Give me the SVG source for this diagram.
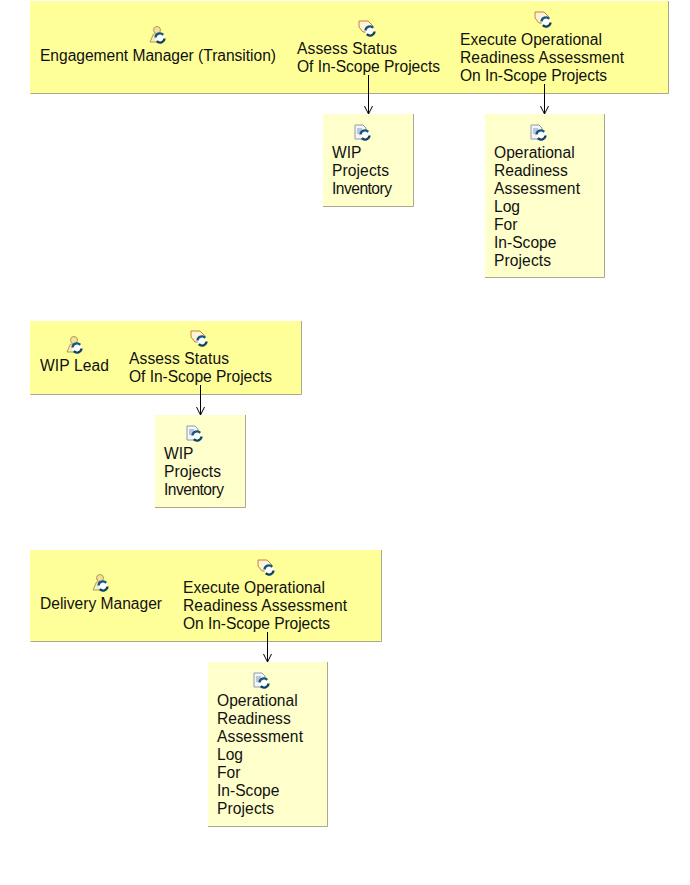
<svg xmlns="http://www.w3.org/2000/svg" width="690" height="885" viewBox="0 0 690 885">
<style>
text{font-family:"Liberation Sans",Arial,sans-serif;font-size:15.6px;fill:#111}
.lane{fill:#ffff99}
.doc{fill:#ffffcc}
.edgeR{fill:none;stroke:#a8a88c;stroke-width:1}
.conn{fill:none;stroke:#000;stroke-width:1;marker-end:url(#arrow)}
</style>
<defs>
<marker id="arrow" markerUnits="userSpaceOnUse" markerWidth="10" markerHeight="10" refX="9" refY="5" orient="auto" viewBox="0 0 10 10"><path d="M1 1L9 5L1 9" fill="none" stroke="#000" stroke-width="1"/></marker>
<g id="sync"><circle cx="0" cy="0" r="4.500" fill="#fff"/><path d="M-4.500 -.5A4.500 4.500 0 0 1 3.200 -3.200" fill="none" stroke="#14567e" stroke-width="2.400"/><path d="M4.500 .5A4.500 4.500 0 0 1 -3.200 3.200" fill="none" stroke="#0f4461" stroke-width="2.400"/></g>
<g id="person"><circle cx="0" cy="-5" r="3.500" fill="#f3e0a0" stroke="#b39a55"/><path d="M-7 7L-3.500 -1H3L6 7Z" fill="#f8edc2" stroke="#b39a55"/><use href="#sync" x="3" y="3"/></g>
<g id="task"><path d="M-8 -7H1L6 -2L3 4H-4L-8 -1Z" fill="#fff3d8" stroke="#c8803a"/><use href="#sync" x="3" y="3"/></g>
<g id="file"><path d="M-7 -7H1L4 -4V7H-7Z" fill="#f6f6f6" stroke="#8a9ab0"/><path d="M-5 -3H0M-5 -1H1M-5 1H0" stroke="#7a94c0"/><use href="#sync" x="3" y="3"/></g>
</defs>

<g id="lane-engagement-manager">
<rect class="lane" x="30" y="1" width="638" height="93"/>
<path class="edgeR" d="M30.500 93.500H668.500V1"/>
<use href="#person" x="157" y="35"/>
<text x="40" y="61" textLength="236">Engagement Manager (Transition)</text>
</g>
<g id="task-assess-1">
<use href="#task" x="367" y="28"/>
<text x="297" y="54" textLength="100">Assess Status</text>
<text x="297" y="72" textLength="143">Of In-Scope Projects</text>
</g>
<g id="task-execute-1">
<use href="#task" x="543" y="19"/>
<text x="460" y="45" textLength="142">Execute Operational</text>
<text x="460" y="63" textLength="164">Readiness Assessment</text>
<text x="460" y="81" textLength="147">On In-Scope Projects</text>
</g>
<g id="doc-wip-1">
<rect class="doc" x="323" y="114" width="90" height="92"/>
<path class="edgeR" d="M323 206.500H413.500V114"/>
<use href="#file" x="362" y="132"/>
<text x="332" y="158">WIP</text>
<text x="332" y="176" textLength="57">Projects</text>
<text x="332" y="194" textLength="60">Inventory</text>
</g>
<g id="doc-ora-1">
<rect class="doc" x="485" y="114" width="119" height="163"/>
<path class="edgeR" d="M485 277.500H604.500V114"/>
<use href="#file" x="538" y="132"/>
<text x="494" y="158">Operational</text>
<text x="494" y="176">Readiness</text>
<text x="494" y="194" textLength="86">Assessment</text>
<text x="494" y="212">Log</text>
<text x="494" y="230">For</text>
<text x="494" y="248">In-Scope</text>
<text x="494" y="266" textLength="57">Projects</text>
</g>

<g id="lane-wip-lead">
<rect class="lane" x="30" y="321" width="271" height="73"/>
<path class="edgeR" d="M30.500 394.500H301.500V321"/>
<use href="#person" x="74" y="345"/>
<text x="40" y="371" textLength="69">WIP Lead</text>
</g>
<g id="task-assess-2">
<use href="#task" x="199" y="338"/>
<text x="129" y="364" textLength="100">Assess Status</text>
<text x="129" y="382" textLength="143">Of In-Scope Projects</text>
</g>
<g id="doc-wip-2">
<rect class="doc" x="155" y="415" width="90" height="92"/>
<path class="edgeR" d="M155 507.500H245.500V415"/>
<use href="#file" x="194" y="433"/>
<text x="164" y="459">WIP</text>
<text x="164" y="477" textLength="57">Projects</text>
<text x="164" y="495" textLength="60">Inventory</text>
</g>

<g id="lane-delivery-manager">
<rect class="lane" x="30" y="550" width="351" height="91"/>
<path class="edgeR" d="M30.500 641.500H381.500V550"/>
<use href="#person" x="100" y="583"/>
<text x="40" y="609" textLength="122">Delivery Manager</text>
</g>
<g id="task-execute-2">
<use href="#task" x="266" y="567"/>
<text x="183" y="593" textLength="142">Execute Operational</text>
<text x="183" y="611" textLength="164">Readiness Assessment</text>
<text x="183" y="629" textLength="147">On In-Scope Projects</text>
</g>
<g id="doc-ora-2">
<rect class="doc" x="208" y="662" width="119" height="164"/>
<path class="edgeR" d="M208 826.500H327.500V662"/>
<use href="#file" x="261" y="680"/>
<text x="217" y="706">Operational</text>
<text x="217" y="724">Readiness</text>
<text x="217" y="742" textLength="86">Assessment</text>
<text x="217" y="760">Log</text>
<text x="217" y="778">For</text>
<text x="217" y="796">In-Scope</text>
<text x="217" y="814" textLength="57">Projects</text>
</g>

<g id="connectors">
<path class="conn" d="M368.500 75V114"/>
<path class="conn" d="M544.500 84V114"/>
<path class="conn" d="M200.500 385V415"/>
<path class="conn" d="M267.500 632V662"/>
</g>
</svg>
